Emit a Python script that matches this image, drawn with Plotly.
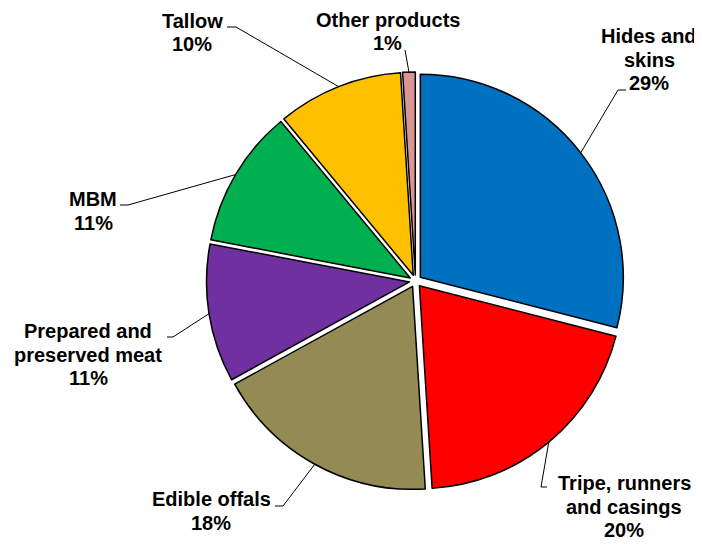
import math
import plotly.graph_objects as go

labels = ["Hides and<br>skins", "Tripe, runners<br>and casings", "Edible offals",
          "Prepared and<br>preserved meat", "MBM", "Tallow", "Other products"]
shares = [29, 20, 18, 11, 11, 10, 1]
colors = ["#0070C0", "#FF0000", "#948A54", "#7030A0", "#00B050", "#FFC000", "#D99694"]

# page is drawn with an 8px body margin, so the figure is a bit smaller and
# every page pixel is shifted by OFF
OFF = 8
FW, FH = 702 - OFF, 544 - OFF
cx, cy = 415.5, 281.0   # pie centre, page px
r = 203.0               # slice radius, px
pull = 0.03

# label centre x and first baseline (page px), leader line elbow / end (page px)
label_x = [649, 624, 211, 88, 93, 192, 388]
label_base = [43, 490, 506, 338, 206, 28, 26.5]
line_gap = 23.5
elbows = [(618, 90), (541, 487), (283, 506), (173, 337), (128, 205), (236, 27), (405, 50)]
ends = [(626, 90), (547, 487), (275, 506), (167, 337), (120, 205), (227, 27), (405, 50)]


def px(x, y):
    return (x - OFF) / FW, 1 - (y - OFF) / FH


R = r * (1 + pull)
x0, y1 = px(cx - R, cy - R)
x1, y0 = px(cx + R, cy + R)
fig = go.Figure(go.Pie(
    labels=[l.replace("<br>", " ") for l in labels], values=shares, sort=False,
    direction="clockwise", rotation=0,
    marker=dict(colors=colors, line=dict(color="black", width=1.5)),
    pull=[pull] * len(shares), textinfo="none", hoverinfo="label+percent",
    domain=dict(x=[x0, x1], y=[y0, y1]),
))

total = sum(shares)
cum = 0
for i, v in enumerate(shares):
    mid = (cum + v / 2) / total * 2 * math.pi
    cum += v
    ex = cx + R * math.sin(mid)
    ey = cy - R * math.cos(mid)
    pts = [(ex, ey), elbows[i], ends[i]]
    for a, b in zip(pts[:-1], pts[1:]):
        if a == b:
            continue
        ax0, ay0 = px(*a)
        ax1, ay1 = px(*b)
        fig.add_shape(type="line", xref="paper", yref="paper", x0=ax0, y0=ay0, x1=ax1, y1=ay1,
                      line=dict(color="black", width=1))
    lines = labels[i].split("<br>") + [f"{v}%"]
    for k, t in enumerate(lines):
        lx, ly = px(label_x[i], label_base[i] + k * line_gap - 7)
        fig.add_annotation(text=f"<b>{t}</b>", x=lx, y=ly, xref="paper", yref="paper",
                           xanchor="center", yanchor="middle", showarrow=False,
                           font=dict(family="Liberation Sans, Arial", size=20, color="black"))

fig.update_layout(width=FW, height=FH, margin=dict(l=0, r=0, t=0, b=0),
                  paper_bgcolor="white", plot_bgcolor="white", showlegend=False)
fig.write_html("out.html")
